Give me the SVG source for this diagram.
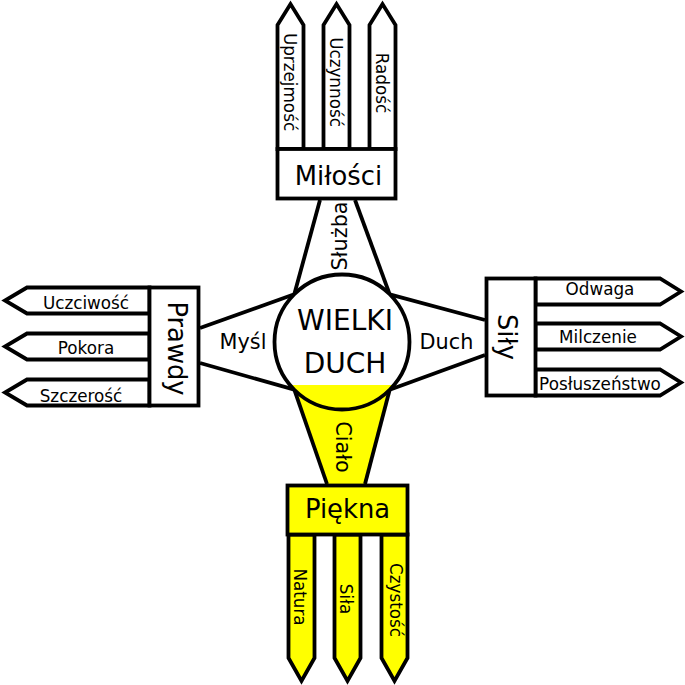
<svg xmlns="http://www.w3.org/2000/svg" width="685" height="685" viewBox="0 0 685 685">
<style>
.s{stroke:#000;stroke-width:3.8;stroke-linejoin:miter}
.w{fill:#fff}
.y{fill:#ffff00}
text{font-family:"DejaVu Sans","Liberation Sans",sans-serif;fill:#000}
.t16{font-size:16.8px}
.t20{font-size:20.8px}
.t25{font-size:25.8px}
.t27{font-size:28px}
</style>
<rect width="685" height="685" fill="#fff"/>
<g id="connectors">
<polygon class="w" points="320,200 355,200 389.7,294.3 294.3,294.3"/>
<polygon class="w" points="200,328 200,363 294.3,389.7 294.3,294.3"/>
<polygon class="w" points="485,320 485,355 389.7,389.7 389.7,294.3"/>
<polygon class="y" points="294.3,389.7 389.7,389.7 365,484 327,484"/>
<g class="s" fill="none">
<line x1="320" y1="200" x2="294.3" y2="294.3"/>
<line x1="355" y1="200" x2="389.7" y2="294.3"/>
<line x1="200" y1="328" x2="294.3" y2="294.3"/>
<line x1="200" y1="363" x2="294.3" y2="389.7"/>
<line x1="485" y1="320" x2="389.7" y2="294.3"/>
<line x1="485" y1="355" x2="389.7" y2="389.7"/>
<line x1="294.3" y1="389.7" x2="327" y2="484"/>
<line x1="389.7" y1="389.7" x2="365" y2="484"/>
</g>
<text class="t20" transform="translate(347,236) rotate(-90)" text-anchor="middle">Służba</text>
<text class="t20" x="243" y="349" text-anchor="middle">Myśl</text>
<text class="t20" x="446.5" y="349" text-anchor="middle">Duch</text>
<text class="t20" transform="translate(336,447) rotate(90)" text-anchor="middle">Ciało</text>
</g>
<g id="wielki-duch">
<circle cx="342" cy="342" r="67.5" fill="#fff"/>
<path d="M290,385 L394,385 A67.5 67.5 0 0 1 290,385 Z" fill="#ffff00"/>
<circle cx="342" cy="342" r="67.5" fill="none" class="s"/>
<text class="t27" x="345" y="330" text-anchor="middle">WIELKI</text>
<text class="t27" x="345" y="373" text-anchor="middle">DUCH</text>
</g>
<g id="milosci">
<polygon class="s w" points="277.5,149 277.5,25 290.5,4 303.5,25 303.5,149"/>
<polygon class="s w" points="323.5,149 323.5,25 336.5,4 349.5,25 349.5,149"/>
<polygon class="s w" points="369.5,149 369.5,25 382.5,4 395.5,25 395.5,149"/>
<text class="t16" transform="translate(283.5,82) rotate(90)" text-anchor="middle">Uprzejmość</text>
<text class="t16" transform="translate(330,82) rotate(90)" text-anchor="middle">Uczynność</text>
<text class="t16" transform="translate(376,83) rotate(90)" text-anchor="middle">Radość</text>
<rect class="s w" x="277.5" y="149" width="118" height="49.5"/>
<text class="t25" x="338.5" y="185" text-anchor="middle">Miłości</text>
</g>
<g id="prawdy">
<polygon class="s w" points="149.5,287.5 27,287.5 5,300.5 27,313.5 149.5,313.5"/>
<polygon class="s w" points="149.5,333.5 27,333.5 5,346.5 27,359.5 149.5,359.5"/>
<polygon class="s w" points="149.5,379.5 27,379.5 5,392.5 27,405.5 149.5,405.5"/>
<text class="t16" x="86" y="309" text-anchor="middle">Uczciwość</text>
<text class="t16" x="86" y="354" text-anchor="middle">Pokora</text>
<text class="t16" x="81" y="402" text-anchor="middle">Szczerość</text>
<rect class="s w" x="149.5" y="287.5" width="49" height="118"/>
<text class="t25" transform="translate(168,348.5) rotate(90)" text-anchor="middle">Prawdy</text>
</g>
<g id="sily">
<polygon class="s w" points="535.5,278.5 660,278.5 681,291.5 660,304.5 535.5,304.5"/>
<polygon class="s w" points="535.5,323.5 660,323.5 681,336.5 660,349.5 535.5,349.5"/>
<polygon class="s w" points="535.5,369.5 660,369.5 681,382.5 660,395.5 535.5,395.5"/>
<text class="t16" x="600" y="295" text-anchor="middle">Odwaga</text>
<text class="t16" x="598" y="343" text-anchor="middle">Milczenie</text>
<text class="t16" x="600" y="390" text-anchor="middle">Posłuszeństwo</text>
<rect class="s w" x="486.5" y="278.5" width="49" height="117"/>
<text class="t25" transform="translate(498,337) rotate(90)" text-anchor="middle">Siły</text>
</g>
<g id="piekna">
<polygon class="s y" points="288.5,534.5 288.5,658 301.5,681 314.5,658 314.5,534.5"/>
<polygon class="s y" points="334.5,534.5 334.5,658 347.5,681 360.5,658 360.5,534.5"/>
<polygon class="s y" points="381.5,534.5 381.5,658 394.5,681 407.5,658 407.5,534.5"/>
<text class="t16" transform="translate(294,597) rotate(90)" text-anchor="middle">Natura</text>
<text class="t16" transform="translate(340,599) rotate(90)" text-anchor="middle">Siła</text>
<text class="t16" transform="translate(390,600) rotate(90)" text-anchor="middle">Czystość</text>
<rect class="s y" x="287.5" y="485.5" width="120" height="49"/>
<text class="t25" x="347.5" y="518" text-anchor="middle">Piękna</text>
</g>
</svg>
